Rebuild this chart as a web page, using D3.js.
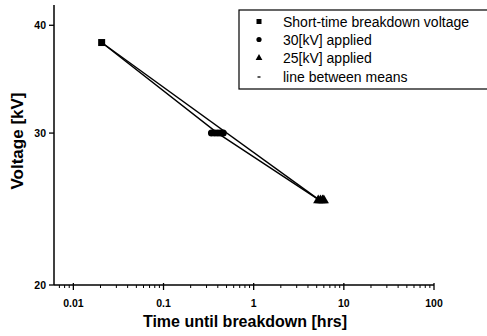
<!DOCTYPE html>
<html>
<head>
<meta charset="utf-8">
<script src="https://cdn.jsdelivr.net/npm/d3@7"></script>
<style>
  body { margin: 0; background: #fff; }
  text { font-family: "Liberation Sans", Arial, sans-serif; fill: #000; }
</style>
</head>
<body>
<script>
// values
var shortTimeHrs = [0.0206];
var shortTimeKV = [38.2];
var applied30Hrs = [0.34, 0.37, 0.40, 0.43, 0.46];
var applied30KV = [30, 30, 30, 30, 30];
var applied25Hrs = [5.2, 5.5, 5.8, 6.0];
var applied25KV = [25, 25, 25, 25];
var xTickVals = [0.01, 0.1, 1, 10, 100];
var xTickLabels = ["0.01", "0.1", "1", "10", "100"];
var yTickVals = [20, 30, 40];
var yTickLabels = ["20", "30", "40"];
var legendLabels = ["Short-time breakdown voltage", "30[kV] applied", "25[kV] applied", "line between means"];

var W = 487, H = 336;
var svg = d3.select("body").append("svg")
    .attr("width", W).attr("height", H);

var x = d3.scaleLog().domain([0.0061, 100]).range([54, 434]);
var y = d3.scaleLog().domain([20, 42]).range([285, 7]);

var mean = a => d3.mean(a);
var means = [
  {t: mean(shortTimeHrs), v: mean(shortTimeKV)},
  {t: Math.pow(10, d3.mean(applied30Hrs, d => Math.log10(d))), v: mean(applied30KV)},
  {t: Math.pow(10, d3.mean(applied25Hrs, d => Math.log10(d))), v: mean(applied25KV)}
];

// x axis
var minorX = [];
[0.001, 0.01, 0.1, 1, 10].forEach(dec => {
  for (var k = 2; k <= 9; k++) {
    var v = dec * k;
    if (v >= x.domain()[0] && v <= 100) minorX.push(v);
  }
});

var xg = svg.append("g").attr("transform", "translate(0,285)");
xg.append("line").attr("x1", 54).attr("x2", 434).attr("stroke", "#000").attr("stroke-width", 1.5);
xg.selectAll(".minor").data(minorX).enter().append("line")
  .attr("x1", d => x(d)).attr("x2", d => x(d))
  .attr("y1", 0).attr("y2", 3)
  .attr("stroke", "#000").attr("stroke-width", 1);
xg.selectAll(".major").data(xTickVals).enter().append("line")
  .attr("x1", d => x(d)).attr("x2", d => x(d))
  .attr("y1", -2).attr("y2", 5)
  .attr("stroke", "#000").attr("stroke-width", 1.3);
xg.selectAll(".lbl").data(xTickVals).enter().append("text")
  .attr("x", d => x(d)).attr("y", 22)
  .attr("text-anchor", "middle")
  .attr("font-size", 10.5).attr("font-weight", "bold")
  .text((d, i) => xTickLabels[i]);

svg.append("text")
  .attr("x", 245).attr("y", 327)
  .attr("text-anchor", "middle")
  .attr("font-size", 16).attr("font-weight", "bold")
  .text("Time until breakdown [hrs]");

// y axis
var yg = svg.append("g");
yg.append("line").attr("x1", 54).attr("x2", 54).attr("y1", 5).attr("y2", 285)
  .attr("stroke", "#000").attr("stroke-width", 1.5);
yg.selectAll(".major").data(yTickVals).enter().append("line")
  .attr("x1", 49).attr("x2", 54)
  .attr("y1", d => y(d)).attr("y2", d => y(d))
  .attr("stroke", "#000").attr("stroke-width", 1.3);
yg.selectAll(".lbl").data(yTickVals).enter().append("text")
  .attr("x", 46).attr("y", d => y(d) + 4)
  .attr("text-anchor", "end")
  .attr("font-size", 10.5).attr("font-weight", "bold")
  .text((d, i) => yTickLabels[i]);

svg.append("text")
  .attr("transform", "translate(23,141) rotate(-90)")
  .attr("text-anchor", "middle")
  .attr("font-size", 17).attr("font-weight", "bold")
  .text("Voltage [kV]");

// lines
var line = d3.line().x(d => x(d.t)).y(d => y(d.v));
svg.append("path").datum(means)
  .attr("d", line).attr("fill", "none")
  .attr("stroke", "#000").attr("stroke-width", 1.4);
svg.append("path").datum([means[0], means[2]])
  .attr("d", line).attr("fill", "none")
  .attr("stroke", "#000").attr("stroke-width", 1.4);

// markers
svg.selectAll(".sq").data(shortTimeHrs).enter().append("rect")
  .attr("x", d => x(d) - 3.5).attr("y", (d, i) => y(shortTimeKV[i]) - 3.5)
  .attr("width", 7).attr("height", 7).attr("fill", "#000");
svg.selectAll(".ci").data(applied30Hrs).enter().append("circle")
  .attr("cx", d => x(d)).attr("cy", (d, i) => y(applied30KV[i]))
  .attr("r", 3.5).attr("fill", "#000");
var tri = d3.symbol().type(d3.symbolTriangle).size(45);
svg.selectAll(".tr").data(applied25Hrs).enter().append("path")
  .attr("d", tri)
  .attr("transform", (d, i) => "translate(" + x(d) + "," + (y(applied25KV[i]) - 1) + ")")
  .attr("fill", "#000");

// legend
var lg = svg.append("g");
lg.append("rect").attr("x", 239).attr("y", 10).attr("width", 260).attr("height", 79)
  .attr("fill", "#fff").attr("stroke", "#000").attr("stroke-width", 1.2);
var rowY = [25, 43, 61.5, 80];
lg.append("rect").attr("x", 256.5).attr("y", rowY[0] - 6).attr("width", 5).attr("height", 5).attr("fill", "#000");
lg.append("circle").attr("cx", 259).attr("cy", rowY[1] - 3.5).attr("r", 2.6).attr("fill", "#000");
lg.append("path").attr("d", d3.symbol().type(d3.symbolTriangle).size(20))
  .attr("transform", "translate(259," + (rowY[2] - 3.5) + ")").attr("fill", "#000");
lg.append("line").attr("x1", 257.5).attr("x2", 260.5).attr("y1", rowY[3] - 3).attr("y2", rowY[3] - 3)
  .attr("stroke", "#000").attr("stroke-width", 1.3);
lg.selectAll(".lt").data(legendLabels).enter().append("text")
  .attr("x", 283).attr("y", (d, i) => rowY[i] + 1.5)
  .attr("font-size", 14)
  .text(d => d);
</script>
</body>
</html>
